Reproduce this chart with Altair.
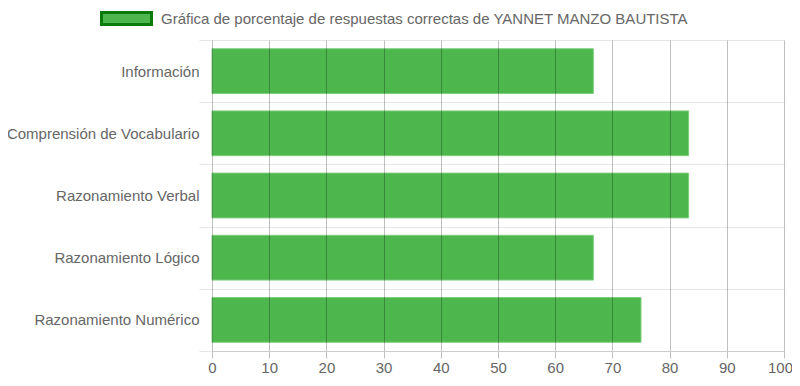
import altair as alt
import pandas as pd

categories = ["Información", "Comprensión de Vocabulario", "Razonamiento Verbal",
              "Razonamiento Lógico", "Razonamiento Numérico"]
values = [66.67, 83.33, 83.33, 66.67, 75.0]
series_name = "Gráfica de porcentaje de respuestas correctas de YANNET MANZO BAUTISTA"
x_ticks = [0, 10, 20, 30, 40, 50, 60, 70, 80, 90, 100]

df = pd.DataFrame({"cat": categories, "val": values, "series": [series_name] * len(categories)})

FONT = "Liberation Sans"
FS = 15

bars = alt.Chart(df).mark_bar(
    fill="#4db64d", stroke="#7fcf7f", strokeWidth=1, fillOpacity=1,
    height={"band": 0.72}
).encode(
    y=alt.Y("cat:N", sort=categories, title=None,
            scale=alt.Scale(paddingInner=0, paddingOuter=0),
            axis=alt.Axis(tickBand="extent", grid=True, gridColor="#e6e6e6",
                          tickColor="#e6e6e6", tickSize=13, labelPadding=0,
                          domain=False, labelFontSize=FS, labelColor="#666666",
                          labelFont=FONT, labelLimit=300, zindex=0)),
    x=alt.X("val:Q", title=None,
            scale=alt.Scale(domain=[0, 100], nice=False),
            axis=alt.Axis(values=x_ticks, grid=True, gridColor="#000000", gridOpacity=0.25,
                          tickColor="#000000", tickOpacity=0.25, tickSize=7,
                          domainColor="#cccccc", labelFontSize=FS, labelColor="#666666",
                          labelFont=FONT, labelPadding=2, labelFlush=False,
                          labelOffset={"condition": {"test": "datum.value == 100", "value": -4},
                                       "value": 0},
                          zindex=1)),
    color=alt.Color("series:N",
                    scale=alt.Scale(range=["#4db64d"]),
                    legend=alt.Legend(
                        orient="none", legendX=-112, legendY=-48, direction="horizontal",
                        title=None, padding=0, symbolType="M-1,-0.24H1V0.24H-1Z", symbolSize=2500,
                        symbolFillColor="#4db34d", symbolStrokeColor="#0a7a0a",
                        symbolStrokeWidth=3, symbolOpacity=1, labelFontSize=FS,
                        labelColor="#666666", labelFont=FONT, labelLimit=700,
                        labelOffset=8)),
).properties(width=572, height=311)

chart = bars.properties(
    autosize=alt.AutoSizeParams(type="none"),
    padding={"left": 204, "top": 32, "right": 8, "bottom": 26},
).configure_view(stroke=None)

chart.save("out.html", embed_options={"renderer": "svg", "actions": False})
